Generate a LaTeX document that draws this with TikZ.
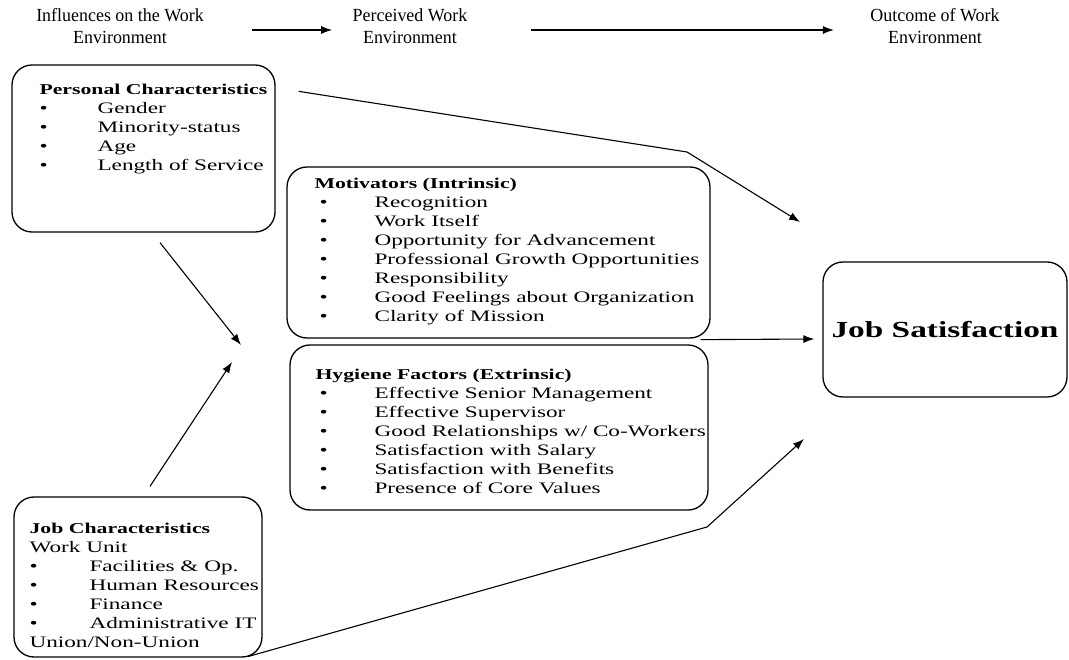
\documentclass[tikz,border=0pt]{standalone}
\usepackage{fontspec}
\setmainfont{Liberation Serif}
\newfontfamily\widefont[FakeStretch=1.45]{Liberation Serif}
\newfontfamily\headfont[FakeStretch=0.97]{Liberation Serif}
\usetikzlibrary{arrows.meta,positioning}
\newcommand{\itm}[2][58pt]{\makebox[#1][l]{\textbullet}#2}
\newcommand{\hd}[1]{{\bfseries\fontsize{15}{19}\selectfont #1}}

\begin{document}
\begin{tikzpicture}[x=1pt,y=-1pt,>={Latex[length=11pt,width=8pt]},
  box/.style={draw,line width=1.3pt,rounded corners=20pt},
  boxtext/.style={inner sep=0pt,align=left,font=\widefont\fontsize{16}{19}\selectfont},
  head/.style={align=center,font=\headfont\fontsize{18.5}{22}\selectfont},
  arr/.style={->,line width=1.1pt}]
  \useasboundingbox (0,0) rectangle (1069,660);

  % column headings
  \node[head] (hdinf) at (120,26) {Influences on the Work\\Environment};
  \node[head] (hdper) at (410,26) {Perceived Work\\Environment};
  \node[head] (hdout) at (935,26) {Outcome of Work\\Environment};
  \draw[arr,shorten <=45pt,shorten >=17pt] ([yshift=-4pt]hdinf.east) -- ([yshift=-4pt]hdper.west);
  \draw[arr,shorten <=60pt,shorten >=33pt] ([yshift=-4pt]hdper.east) -- ([yshift=-4pt]hdout.west);

  % boxes
  \node[box,minimum width=263pt,minimum height=167pt] (perbox) at (143.5,148.5) {};
  \node[box,minimum width=423pt,minimum height=171pt] (motbox) at (498.5,252.5) {};
  \node[box,minimum width=418pt,minimum height=165pt] (hygbox) at (499,427.5) {};
  \node[box,minimum width=248pt,minimum height=160pt] (jobbox) at (138,577) {};
  \node[box,minimum width=244pt,minimum height=135pt,
        font=\widefont\bfseries\fontsize{23}{28}\selectfont] (satbox) at (945,329.5) {Job Satisfaction};

  % box texts
  \node[boxtext,below right=20pt and 28pt of perbox.north west] (pertext) {%
    \hd{Personal Characteristics}\\
    \itm{Gender}\\
    \itm{Minority-status}\\
    \itm{Age}\\
    \itm{Length of Service}};
  \node[boxtext,below right=12pt and 28pt of motbox.north west] (mottext) {%
    \hd{Motivators (Intrinsic)}\\
    \hspace*{5pt}\itm[55pt]{Recognition}\\
    \hspace*{5pt}\itm[55pt]{Work Itself}\\
    \hspace*{5pt}\itm[55pt]{Opportunity for Advancement}\\
    \hspace*{5pt}\itm[55pt]{Professional Growth Opportunities}\\
    \hspace*{5pt}\itm[55pt]{Responsibility}\\
    \hspace*{5pt}\itm[55pt]{Good Feelings about Organization}\\
    \hspace*{5pt}\itm[55pt]{Clarity of Mission}};
  \node[boxtext,below right=25pt and 26pt of hygbox.north west] (hygtext) {%
    \hd{Hygiene Factors (Extrinsic)}\\
    \hspace*{4pt}\itm[55pt]{Effective Senior Management}\\
    \hspace*{4pt}\itm[55pt]{Effective Supervisor}\\
    \hspace*{4pt}\itm[55pt]{Good Relationships w/ Co-Workers}\\
    \hspace*{4pt}\itm[55pt]{Satisfaction with Salary}\\
    \hspace*{4pt}\itm[55pt]{Satisfaction with Benefits}\\
    \hspace*{4pt}\itm[55pt]{Presence of Core Values}};
  \node[boxtext,below right=27pt and 16pt of jobbox.north west] (jobtext) {%
    \hd{Job Characteristics}\\
    Work Unit\\
    \itm[60pt]{Facilities \& Op.}\\
    \itm[60pt]{Human Resources}\\
    \itm[60pt]{Finance}\\
    \itm[60pt]{Administrative IT}\\
    Union/Non-Union};

  % free ends of the connectors
  \coordinate (mergeA) at (241,345);
  \coordinate (mergeB) at (232,362);
  \coordinate (pbend) at (687,152);
  \coordinate (ptip) at (800,222);
  \coordinate (jbend) at (707,527);
  \coordinate (jtip) at (804,439);

  % connectors
  \draw[arr] ([shift={(16.5pt,-10pt)}]perbox.south) -- (mergeA);
  \draw[arr] ([shift={(12pt,10pt)}]jobbox.north) -- (mergeB);
  \draw[arr] ([shift={(23pt,-27pt)}]perbox.north east) -- (pbend) -- (ptip);
  \draw[arr] ([shift={(-10pt,-1pt)}]motbox.south east) -- ([shift={(-8pt,-9.5pt)}]satbox.west);
  \draw[arr] ([shift={(-15pt,1pt)}]jobbox.south east) -- (jbend) -- (jtip);
\end{tikzpicture}
\end{document}
